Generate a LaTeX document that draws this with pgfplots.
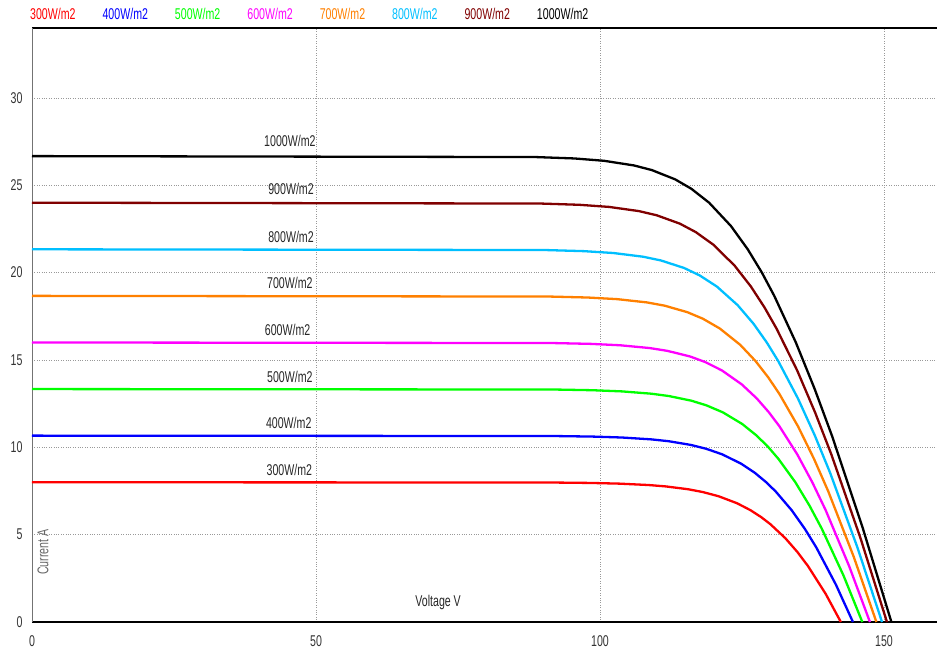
\documentclass[border=0pt]{standalone}
\usepackage{pgfplots}
\pgfplotsset{compat=1.18}
\usepackage{fontspec}
\setmainfont{Liberation Sans}[FakeStretch=0.68]
\newcommand\chartfont{\fontsize{15.6}{18}\selectfont}

\definecolor{g300}{RGB}{255,0,0}
\definecolor{g400}{RGB}{0,0,255}
\definecolor{g500}{RGB}{0,255,0}
\definecolor{g600}{RGB}{255,0,255}
\definecolor{g700}{RGB}{255,128,0}
\definecolor{g800}{RGB}{0,191,255}
\definecolor{g900}{RGB}{128,0,0}
\definecolor{g1000}{RGB}{0,0,0}

\begin{document}
\begin{tikzpicture}
\path[use as bounding box] (0pt,0pt) rectangle (937pt,654pt);
\begin{axis}[
  at={(32pt,32pt)}, anchor=south west,
  scale only axis, width=905pt, height=594pt,
  xmin=0, xmax=159.33, ymin=0, ymax=34,
  xtick={0,50,100,150}, ytick={0,5,10,15,20,25,30},
  axis x line=box, axis y line=left,
  every inner x axis line/.append style={-},
  every inner y axis line/.append style={-},
  every outer x axis line/.append style={-},
  every outer y axis line/.append style={-},
  x axis line style={-, black, line width=1.3pt},
  y axis line style={-, black!55, line width=0.9pt},
  major tick length=0pt,
  grid=major,
  grid style={dotted, black!40, line width=0.6pt},
  /pgf/number format/assume math mode=true,
  tick label style={font=\chartfont, text=black!80},
  yticklabel style={xshift=-6pt},
  xticklabel style={yshift=-10pt},
  every axis plot/.append style={line width=2.3pt, line join=round},
  legend columns=-1,
  legend image code/.code={},
  legend style={draw=none, fill=none, inner sep=0pt,
    at={(axis description cs:0,1)}, anchor=south west,
    xshift=-4pt, yshift=5pt, font=\chartfont,
    /tikz/every even column/.append style={column sep=23pt}},
]

\addplot[g300] coordinates {(0,8.0) (91.46,7.984) (98.25,7.96) (103.39,7.92) (108.57,7.84) (111.61,7.76) (115.49,7.6) (118.08,7.44) (120.86,7.2) (124.11,6.8) (126.49,6.4) (128.39,6.0) (129.99,5.6) (132.62,4.8) (134.77,4.0) (136.62,3.2) (139.75,1.6) (142.40,0)};
\addlegendentry{\textcolor{g300}{300W/m2}}

\addplot[g400] coordinates {(0,10.667) (91.92,10.645) (98.71,10.613) (103.87,10.56) (109.06,10.453) (112.12,10.347) (116.03,10.133) (118.65,9.92) (121.49,9.6) (124.82,9.067) (127.28,8.533) (129.26,8.0) (130.94,7.467) (133.74,6.4) (136.06,5.333) (138.08,4.267) (141.54,2.133) (144.53,0)};
\addlegendentry{\textcolor{g400}{400W/m2}}

\addplot[g500] coordinates {(0,13.333) (91.90,13.307) (98.70,13.267) (103.86,13.2) (109.06,13.067) (112.14,12.933) (116.09,12.667) (118.74,12.4) (121.63,12.0) (125.04,11.333) (127.59,10.667) (129.66,10.0) (131.42,9.333) (134.39,8.0) (136.87,6.667) (139.06,5.333) (142.86,2.667) (146.18,0)};
\addlegendentry{\textcolor{g500}{500W/m2}}

\addplot[g600] coordinates {(0,16.0) (91.57,15.968) (98.37,15.92) (103.54,15.84) (108.76,15.68) (111.86,15.52) (115.84,15.2) (118.52,14.88) (121.46,14.4) (124.96,13.6) (127.59,12.8) (129.74,12.0) (131.59,11.2) (134.72,9.6) (137.37,8.0) (139.73,6.4) (143.86,3.2) (147.52,0)};
\addlegendentry{\textcolor{g600}{600W/m2}}

\addplot[g700] coordinates {(0,18.667) (91.03,18.629) (97.84,18.573) (103.02,18.48) (108.26,18.293) (111.38,18.107) (115.38,17.733) (118.11,17.36) (121.09,16.8) (124.68,15.867) (127.39,14.933) (129.62,14.0) (131.56,13.067) (134.86,11.2) (137.68,9.333) (140.20,7.467) (144.67,3.733) (148.66,0)};
\addlegendentry{\textcolor{g700}{700W/m2}}

\addplot[g800] coordinates {(0,21.333) (90.35,21.291) (97.17,21.227) (102.36,21.12) (107.61,20.907) (110.74,20.693) (114.78,20.267) (117.54,19.84) (120.58,19.2) (124.24,18.133) (127.04,17.067) (129.36,16.0) (131.38,14.933) (134.84,12.8) (137.83,10.667) (140.52,8.533) (145.32,4.267) (149.65,0)};
\addlegendentry{\textcolor{g800}{800W/m2}}

\addplot[g900] coordinates {(0,24.0) (89.55,23.952) (96.37,23.88) (101.57,23.76) (106.84,23.52) (109.99,23.28) (114.06,22.8) (116.85,22.32) (119.94,21.6) (123.69,20.4) (126.57,19.2) (128.97,18.0) (131.07,16.8) (134.71,14.4) (137.86,12.0) (140.72,9.6) (145.86,4.8) (150.52,0)};
\addlegendentry{\textcolor{g900}{900W/m2}}

\addplot[g1000] coordinates {(0,26.667) (88.66,26.613) (95.48,26.533) (100.69,26.400) (105.98,26.133) (109.14,25.867) (113.25,25.333) (116.07,24.800) (119.21,24.000) (123.05,22.667) (126.01,21.333) (128.50,20.000) (130.68,18.667) (134.48,16.000) (137.80,13.333) (140.83,10.667) (146.30,5.333) (151.30,0)};
\addlegendentry{\textcolor{g1000}{1000W/m2}}

% irradiance labels above each curve
\begin{scope}[every node/.style={font=\chartfont, text=black!85}]
\node at (axis cs:45.4,27.53) {1000W/m2};
\node at (axis cs:45.6,24.79) {900W/m2};
\node at (axis cs:45.6,22.04) {800W/m2};
\node at (axis cs:45.4,19.40) {700W/m2};
\node at (axis cs:45.0,16.71) {600W/m2};
\node at (axis cs:45.4,14.02) {500W/m2};
\node at (axis cs:45.2,11.39) {400W/m2};
\node at (axis cs:45.3,8.70) {300W/m2};
\end{scope}

% axis titles
\node[font=\chartfont, text=black!60, rotate=90] at (axis cs:1.94,4.0) {Current A};
\node[font=\chartfont, text=black!85] at (axis cs:71.5,1.09) {Voltage V};
\end{axis}
\end{tikzpicture}
\end{document}
